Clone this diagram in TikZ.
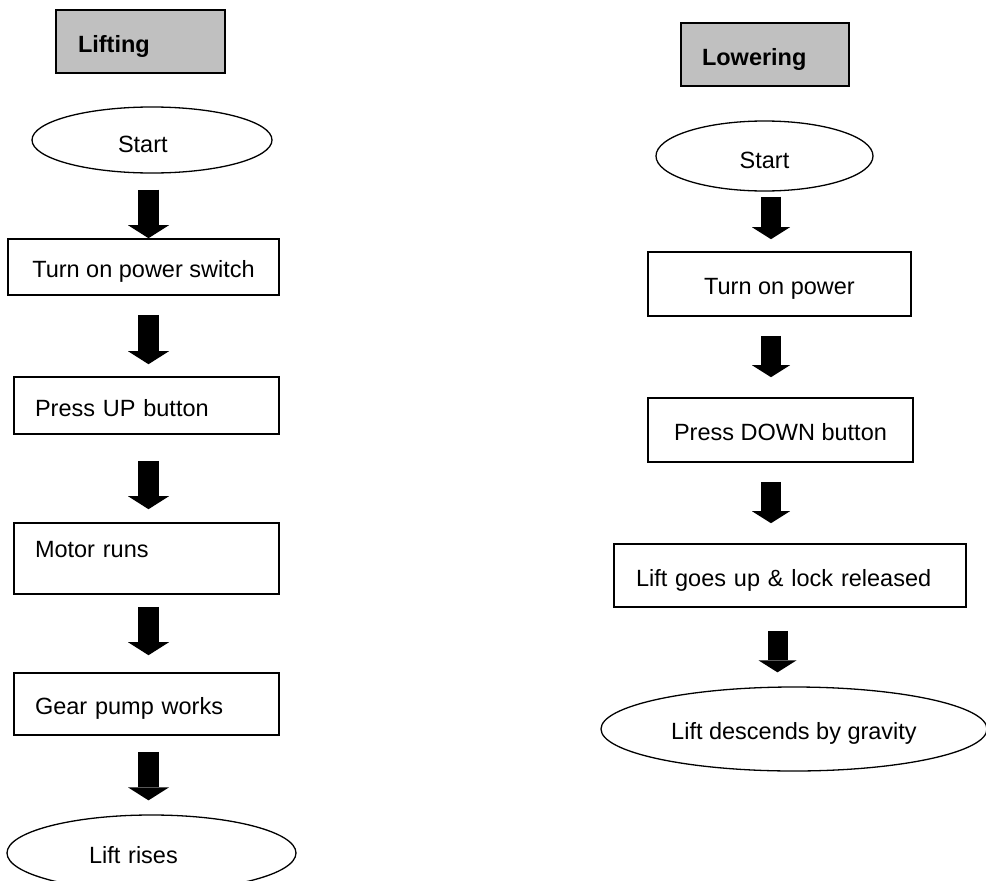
\documentclass[tikz,border=0pt]{standalone}
\usepackage{fontspec}
\setmainfont{Liberation Sans}
\usepackage{tikz}
\usetikzlibrary{arrows.meta}
\usetikzlibrary{shapes.geometric}
\definecolor{titlegray}{RGB}{192,192,192}
\tikzset{
    base/.style={inner sep=0pt, text height=21pt, text depth=0pt,
        font=\fontsize{23.5}{28}\selectfont},
    titlebox/.style={base, draw=black, line width=1.6pt, fill=titlegray,
        font=\fontsize{23.5}{28}\selectfont\bfseries, minimum height=63pt},
    stepbox/.style={base, draw=black, line width=1.6pt},
    terminal/.style={base, ellipse, draw=black, line width=1.3pt},
    liftarrow/.style={line width=21pt,
        -{Triangle[width=41pt,length=13pt,line width=0pt]}},
    lowerarrow/.style={line width=20pt,
        -{Triangle[width=38pt,length=12pt,line width=0pt]}},
}

\begin{document}
\begin{tikzpicture}[x=1pt, y=-1pt]
	\useasboundingbox (0,0) rectangle (986,881);
	% lifting
	\node[titlebox, minimum width=169pt, text width=125pt, align=left] (lifting) at (140.5,41.5) {Lifting};
	\node[terminal, minimum width=240pt, minimum height=66pt, text width=68pt, align=left, text height=25pt] (start1) at (152,140) {Start};
	\node[stepbox, minimum width=271pt, minimum height=56pt] (power1) at (143.5,267) {Turn on power switch};
	\node[stepbox, minimum width=265pt, minimum height=57pt, text width=223pt, align=left] (upbtn) at (146.5,405.5) {Press UP button};
	\node[stepbox, minimum width=265pt, minimum height=71pt, text width=223pt, align=left, text depth=24pt] (motor) at (146.5,558.5) {Motor runs};
	\node[stepbox, minimum width=265pt, minimum height=62pt, text width=223pt, align=left] (pump) at (146.5,704) {Gear pump works};
	\node[terminal, minimum width=289pt, minimum height=76pt, text width=125pt, align=left] (rises) at (151.5,853) {Lift rises};
	\coordinate (axisL) at (148.5,0);
	\draw[liftarrow, shorten <=16pt] (axisL |- start1.south) -- (axisL |- power1.north);
	\draw[liftarrow, shorten <=19pt, shorten >=12pt] (axisL |- power1.south) -- (axisL |- upbtn.north);
	\draw[liftarrow, shorten <=26pt, shorten >=13pt] (axisL |- upbtn.south) -- (axisL |- motor.north);
	\draw[liftarrow, shorten <=12pt, shorten >=17pt] (axisL |- motor.south) -- (axisL |- pump.north);
	\draw[liftarrow, shorten <=16pt, shorten >=14pt] (axisL |- pump.south) -- (axisL |- rises.north);
	% lowering
	\node[titlebox, minimum width=168pt, text width=126pt, align=left] (lowering) at (765,54.5) {Lowering};
	\node[terminal, minimum width=217pt, minimum height=70pt, text height=24pt] (start2) at (764.5,156) {Start};
	\node[stepbox, minimum width=263pt, minimum height=64pt] (power2) at (779.5,284) {Turn on power};
	\node[stepbox, minimum width=265pt, minimum height=64pt] (downbtn) at (780.5,430) {Press DOWN button};
	\node[stepbox, minimum width=352pt, minimum height=63pt, text width=308pt, align=left] (release) at (790,575.5) {Lift goes up \& lock released};
	\node[terminal, minimum width=386pt, minimum height=84pt] (descends) at (794,729) {Lift descends by gravity};
	\coordinate (axisR) at (771,0);
	\coordinate (axisRR) at (777.5,0);
	\draw[lowerarrow, shorten <=5pt, shorten >=12pt] (axisR |- start2.south) -- (axisR |- power2.north);
	\draw[lowerarrow, shorten <=19pt, shorten >=20pt] (axisR |- power2.south) -- (axisR |- downbtn.north);
	\draw[lowerarrow, shorten <=19pt, shorten >=20pt] (axisR |- downbtn.south) -- (axisR |- release.north);
	\draw[lowerarrow, shorten <=23pt, shorten >=14pt] (axisRR |- release.south) -- (axisRR |- descends.north);
\end{tikzpicture}
\end{document}
